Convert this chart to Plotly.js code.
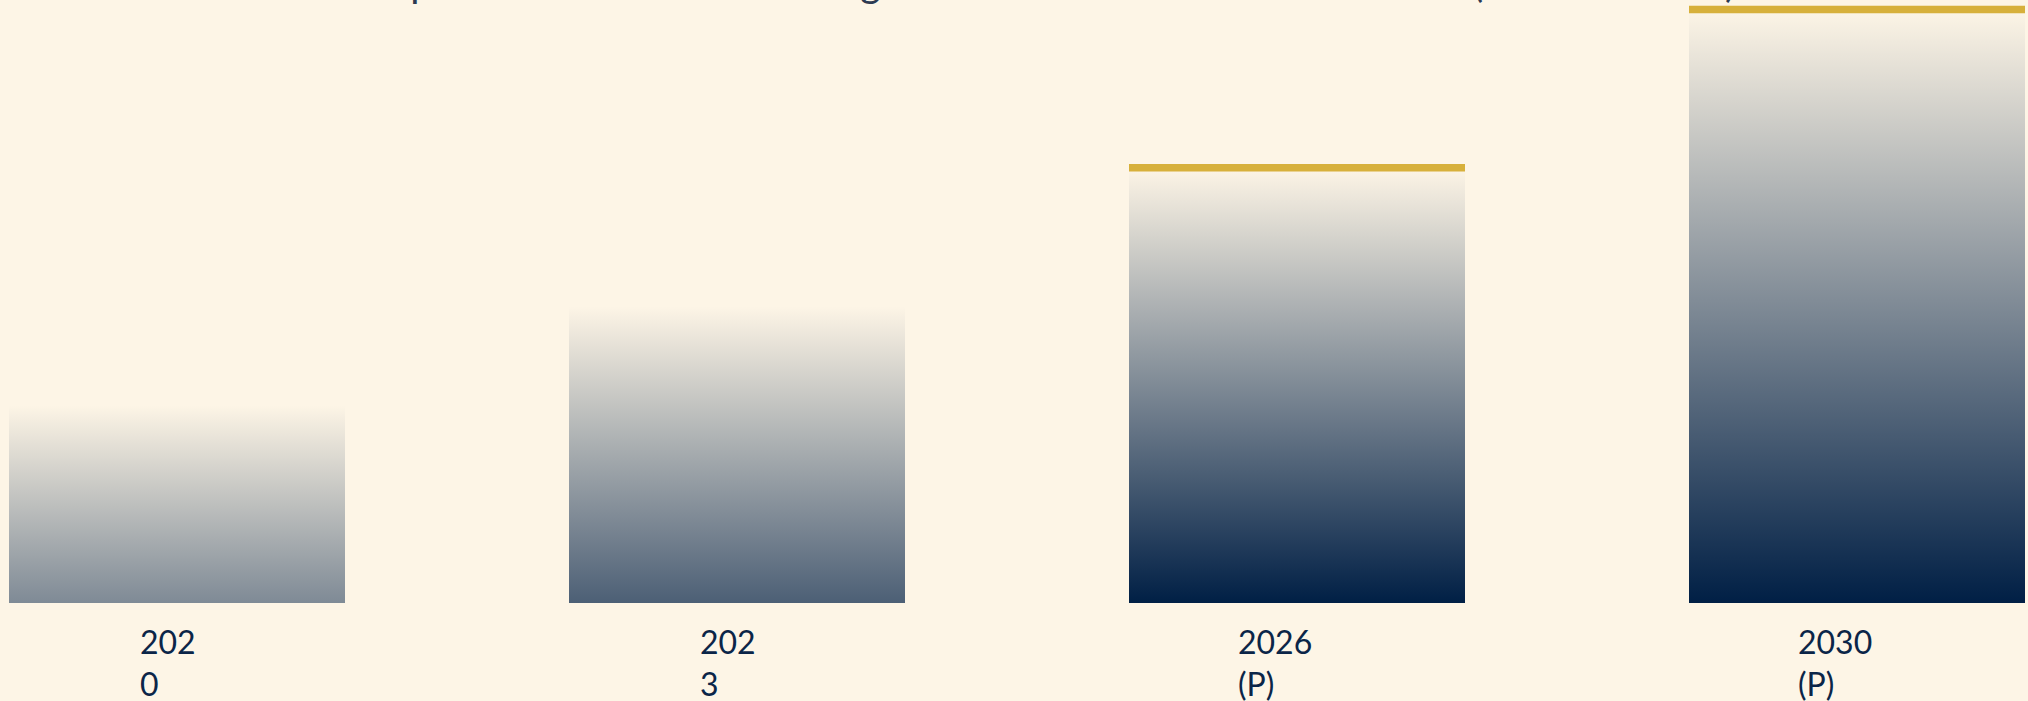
<!DOCTYPE html>
<html>
<head>
<meta charset="utf-8">
<script src="https://cdn.plot.ly/plotly-3.0.1.min.js"></script>
<style>
  html, body { margin: 0; padding: 0; background: #fdf5e6; }
  #chart { width: 2028px; height: 701px; }
</style>
</head>
<body>
<div id="chart"></div>
<script>
// ---- data ----
const categories = ["2020", "2023", "2026 (P)", "2030 (P)"];
const tickLabels = ["202<br>0", "202<br>3", "2026<br>(P)", "2030<br>(P)"];
const values = [10, 15, 22, 30];
const projected = [false, false, true, true];
const barOpacity = [0.5, 0.7, 1, 1];
const chartTitle = "Market Expansion of the Solar Storage Sectors Across the Last Decade (in USD Billion)";

// ---- style ----
const FONT = "Lato, 'Noto Sans', sans-serif";
const NAVY = "0,31,69";
const GOLD = "#d7b03b";
const BG = "#fdf5e6";
const HALF = 0.3; // half bar width in category units

function measure(text, size) {
  const c = document.createElement("canvas").getContext("2d");
  c.font = size + "px Lato";
  return c.measureText(text).width;
}

const traces = [];
values.forEach((v, i) => {
  traces.push({
    type: "scatter",
    mode: "lines",
    x: [i - HALF, i + HALF, i + HALF, i - HALF, i - HALF],
    y: [0, 0, v, v, 0],
    fill: "toself",
    line: { width: 0, color: "rgba(0,0,0,0)" },
    fillgradient: {
      type: "vertical",
      start: 0,
      stop: v,
      colorscale: [[0, "rgba(" + NAVY + "," + barOpacity[i] + ")"], [1, "rgba(" + NAVY + ",0)"]]
    },
    hoverinfo: "skip",
    showlegend: false
  });
});

// gold cap lines on projected bars
const gx = [], gy = [];
values.forEach((v, i) => {
  if (projected[i]) { gx.push(i - HALF, i + HALF, null); gy.push(v, v, null); }
});
traces.push({
  type: "scatter", mode: "lines", x: gx, y: gy,
  line: { color: GOLD, width: 7.5 },
  hoverinfo: "skip", showlegend: false
});

const annotations = categories.map((c, i) => ({
  x: i, y: 0, xref: "x", yref: "y",
  text: tickLabels[i],
  showarrow: false,
  xanchor: "left", yanchor: "top", align: "left",
  xshift: -measure(c, 32) / 2 - 2,
  yshift: -17,
  font: { family: FONT, size: 32, color: "#0b2548" }
}));

const layout = {
  width: 2028, height: 701,
  paper_bgcolor: BG, plot_bgcolor: BG,
  margin: { l: 9, r: 3, t: 0, b: 97.5 },
  title: {
    text: chartTitle,
    font: { family: FONT, size: 40, color: "#2c3a52" },
    x: 0.485, xref: "container", xanchor: "center",
    y: 1, yref: "container", yanchor: "bottom",
    pad: { b: 3 }
  },
  xaxis: { range: [-0.3, 3.3], showgrid: false, zeroline: false, showticklabels: false, showline: false, fixedrange: true },
  yaxis: { range: [0, 30.48], showgrid: false, zeroline: false, showticklabels: false, showline: false, fixedrange: true },
  annotations: annotations,
  showlegend: false
};

Plotly.newPlot("chart", traces, layout, { displayModeBar: false, staticPlot: true });
</script>
</body>
</html>
